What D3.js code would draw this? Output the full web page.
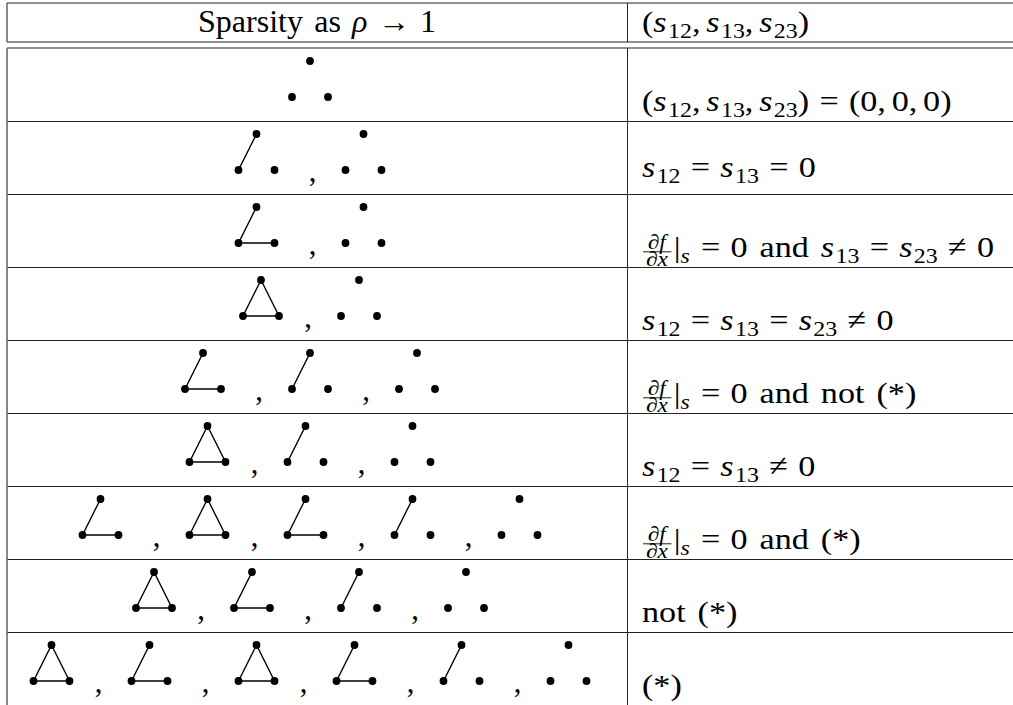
<!DOCTYPE html>
<html>
<head>
<meta charset="UTF-8">
<title>Sparsity table</title>
<style>
	body { margin: 0; background: #fff; }
	svg text { font-family: "Liberation Serif", "Times New Roman", serif; white-space: pre; fill: #000; }
	.rule { stroke: #222; stroke-width: 1; }
	.frame { stroke: #6a6a6a; stroke-width: 1.6; }
	.edge { stroke: #000; stroke-width: 1.4; }
</style>
</head>
<body>
<script src="https://d3js.org/d3.v7.min.js"></script>
<script type="text/javascript">

'use strict';

// $..$ = italic, _{..} = subscript, \frac{..}{..} = fraction
var headers = ["Sparsity as $ρ$ → 1", "($s$_{12}, $s$_{13}, $s$_{23})"];

// E = no edge, A = one edge, L = two edges, T = triangle
var patterns = [
	["E"],
	["A", "E"],
	["L", "E"],
	["T", "E"],
	["L", "A", "E"],
	["T", "A", "E"],
	["L", "T", "L", "A", "E"],
	["T", "L", "A", "E"],
	["T", "L", "T", "L", "A", "E"]
];

var conditions = [
	"($s$_{12}, $s$_{13}, $s$_{23}) = (0, 0, 0)",
	"$s$_{12} = $s$_{13} = 0",
	"\\frac{∂$f$}{∂$x$}|_{$s$} = 0 and $s$_{13} = $s$_{23} ≠ 0",
	"$s$_{12} = $s$_{13} = $s$_{23} ≠ 0",
	"\\frac{∂$f$}{∂$x$}|_{$s$} = 0 and not (*)",
	"$s$_{12} = $s$_{13} ≠ 0",
	"\\frac{∂$f$}{∂$x$}|_{$s$} = 0 and (*)",
	"not (*)",
	"(*)"
];

var nodes = [[0.5, 0], [0, 1], [1, 1]];
var edges = { E: [], A: [[0, 1]], L: [[0, 1], [1, 2]], T: [[0, 1], [1, 2], [2, 0]] };

var W = 1013, H = 705;
var left = 7, divider = 627;
var size = 30.5;
var stretch = 1.12; // Times is narrower than Computer Modern

var svg = d3.select("body").append("svg")
	.attr("width", W)
	.attr("height", H);

var row = d3.scaleBand()
	.domain(d3.range(patterns.length))
	.range([48, H]);

// glyph interior, relative to the row top
var gx = d3.scaleLinear().domain([0, 1]).range([0, 36]);
var gy = d3.scaleLinear().domain([0, 1]).range([13, 49]);

function glyph(g, s, x, y, fs, italic){
	var t = g.append("text")
		.attr("x", x)
		.attr("y", y)
		.attr("font-size", fs)
		.attr("font-style", italic ? "italic" : "normal")
		.text(s);
	return x + t.node().getComputedTextLength() + (italic ? fs * 0.04 : 0);
}

// plain text with TeX-like spacing: thin after commas, thick round relations
function plain(g, s, x, y, fs){
	s.split(/(, |\s*[=≠→]\s*| )/).forEach(function(p){
		if (!p) return;
		if (p === ", "){
			x = glyph(g, ",", x, y, fs, false) + fs * 0.17;
		} else if (p === " "){
			x += fs * 0.35;
		} else if (/[=≠→]/.test(p)){
			x += fs * 0.3;
			x = glyph(g, p.trim(), x, y, fs, false);
			x += fs * 0.3;
		} else {
			x = glyph(g, p, x, y, fs, false);
		}
	});
	return x;
}

function drawMath(g, src, x, y, fs){
	var re = /\\frac\{(.*?)\}\{(.*?)\}|_\{(.*?)\}|\$(.*?)\$|([^\\_$]+)/g;
	var m;
	while ((m = re.exec(src)) !== null){
		if (m[1] !== undefined){
			var sf = fs * 0.68;
			var num = g.append("g"), den = g.append("g");
			var wn = drawMath(num, m[1], 0, y - fs * 0.25, sf);
			var wd = drawMath(den, m[2], 0, y + fs * 0.29, sf);
			var w = Math.max(wn, wd) + 7;
			num.attr("transform", "translate(" + (x + (w - wn) / 2) + ",0)");
			den.attr("transform", "translate(" + (x + (w - wd) / 2) + ",0)");
			g.append("line")
				.attr("x1", x + 1).attr("x2", x + w - 1)
				.attr("y1", y - fs * 0.17).attr("y2", y - fs * 0.17)
				.attr("stroke", "#000").attr("stroke-width", 0.9);
			x += w + 1;
		} else if (m[3] !== undefined){
			x = drawMath(g, m[3], x, y + fs * 0.2, fs * 0.7);
		} else if (m[4] !== undefined){
			x = glyph(g, m[4], x, y, fs, true);
		} else {
			x = plain(g, m[5], x, y, fs);
		}
	}
	return x;
}

function mathAt(src, x, y, k){
	var g = svg.append("g");
	var inner = g.append("g").attr("transform", "scale(" + k + ",1)");
	var w = drawMath(inner, src, 0, y, size) * k;
	g.attr("transform", "translate(" + x + ",0)");
	return { g: g, width: w };
}

// rules
var rules = svg.append("g");
[3, 42, 48].forEach(function(y){
	rules.append("line").attr("class", "frame")
		.attr("x1", left).attr("x2", W).attr("y1", y).attr("y2", y);
});
row.domain().forEach(function(i){
	var y = Math.round(row(i) + row.step()) + 0.5;
	rules.append("line").attr("class", "rule")
		.attr("x1", left).attr("x2", W).attr("y1", y).attr("y2", y);
});
[[3, 42], [48, H]].forEach(function(seg){
	rules.append("line").attr("class", "frame")
		.attr("x1", left).attr("x2", left).attr("y1", seg[0]).attr("y2", seg[1]);
	rules.append("line").attr("class", "rule")
		.attr("x1", divider + 0.5).attr("x2", divider + 0.5).attr("y1", seg[0]).attr("y2", seg[1]);
});

// header
var h0 = mathAt(headers[0], 0, 32, 1.05);
h0.g.attr("transform", "translate(" + ((left + divider) / 2 - h0.width / 2) + ",0)");
mathAt(headers[1], divider + 15, 32, stretch);

// glyph rows
var glyphCenter = (left + divider) / 2 - 7;

function layout(codes){
	var items = [], x = 0;
	codes.forEach(function(c, i){
		items.push({ code: c, x: x });
		x += gx(1);
		if (i < codes.length - 1){
			x += c === "T" ? 29 : 38;
			items.push({ comma: true, x: x });
			x += 33;
		}
	});
	return { items: items, width: x };
}

patterns.forEach(function(codes, i){
	var lay = layout(codes);
	var g = svg.append("g")
		.attr("transform", "translate(" + (glyphCenter - lay.width / 2) + "," + row(i) + ")");

	lay.items.forEach(function(it){
		if (it.comma){
			g.append("text")
				.attr("x", it.x)
				.attr("y", 60)
				.attr("font-size", size)
				.attr("text-anchor", "middle")
				.text(",");
			return;
		}
		var gg = g.append("g").attr("transform", "translate(" + it.x + ",0)");
		gg.selectAll("line")
			.data(edges[it.code])
			.enter().append("line")
				.attr("class", "edge")
				.attr("x1", function(e){ return gx(nodes[e[0]][0]); })
				.attr("y1", function(e){ return gy(nodes[e[0]][1]); })
				.attr("x2", function(e){ return gx(nodes[e[1]][0]); })
				.attr("y2", function(e){ return gy(nodes[e[1]][1]); });
		gg.selectAll("circle")
			.data(nodes)
			.enter().append("circle")
				.attr("cx", function(d){ return gx(d[0]); })
				.attr("cy", function(d){ return gy(d[1]); })
				.attr("r", 3.9)
				.attr("fill", "#000");
	});

	var drop = i === 1 ? 56 : 63;
	mathAt(conditions[i], divider + 15, row(i) + drop, stretch);
});

</script>
</body>
</html>
